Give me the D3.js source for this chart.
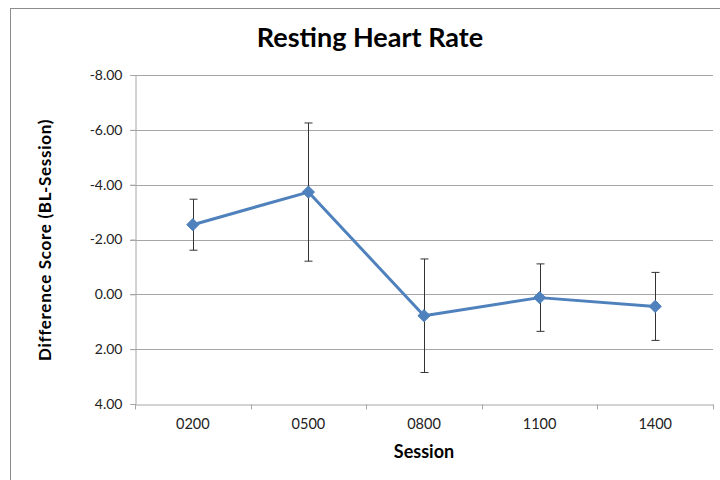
<!DOCTYPE html>
<html>
<head>
<meta charset="utf-8">
<script src="https://cdn.jsdelivr.net/npm/d3@7/dist/d3.min.js"></script>
<style>
  html, body { margin: 0; padding: 0; background: #fff; }
  svg { display: block; font-family: Lato, "Open Sans", sans-serif; }
</style>
</head>
<body>
<svg id="chart" width="720" height="480"></svg>
<script>
const sessions = ["0200", "0500", "0800", "1100", "1400"];
const meanScores = [-2.54, -3.73, 0.78, 0.12, 0.44];
const errorValues = [0.93, 2.52, 2.07, 1.23, 1.24];
const yTicks = [-8, -6, -4, -2, 0, 2, 4];

const svg = d3.select("#chart");
const margin = { left: 135, right: 7, top: 75, bottom: 76 };
const W = 720, H = 480;

// outer chart border
svg.append("rect")
  .attr("x", 10.5).attr("y", 8.5)
  .attr("width", 730).attr("height", 490)
  .attr("fill", "none").attr("stroke", "#8c8c8c").attr("stroke-width", 1);

const x = d3.scaleBand().domain(sessions)
  .range([margin.left, W - margin.right]).padding(0);
const y = d3.scaleLinear().domain([-8, 4])
  .range([margin.top, H - margin.bottom]);

// gridlines
svg.append("g")
  .selectAll("line").data(yTicks.filter(d => d !== 4)).join("line")
  .attr("x1", margin.left - 5).attr("x2", W - margin.right)
  .attr("y1", d => Math.round(y(d)) + 0.5).attr("y2", d => Math.round(y(d)) + 0.5)
  .attr("stroke", "#a6a6a6").attr("stroke-width", 1);

// y axis
const fmt = d => d3.format(".2f")(d).replace("\u2212", "-");
const yAxis = svg.append("g")
  .attr("transform", `translate(${margin.left + 0.5},0)`)
  .call(d3.axisLeft(y).tickValues(yTicks).tickFormat(fmt).tickSize(5).tickPadding(8));
yAxis.select(".domain").attr("stroke", "#a6a6a6");
yAxis.selectAll(".tick line").attr("stroke", "#a6a6a6");
yAxis.selectAll(".tick text")
  .attr("font-size", 14).attr("fill", "#222")
  .attr("font-family", "Lato, sans-serif");

// x axis
const xAxis = svg.append("g")
  .attr("transform", `translate(0,${Math.round(y(4)) + 0.5})`)
  .call(d3.axisBottom(x).tickSize(0).tickPadding(14));
xAxis.select(".domain").attr("stroke", "#a6a6a6");
xAxis.selectAll(".tick text")
  .attr("font-size", 14.5).attr("fill", "#222")
  .attr("font-family", "Lato, sans-serif");
// x tick marks at band boundaries
const bounds = sessions.map(s => x(s)).concat([x(sessions[sessions.length - 1]) + x.bandwidth()]);
xAxis.selectAll(".bound").data(bounds).join("line")
  .attr("class", "bound")
  .attr("x1", d => Math.round(d) + 0.5).attr("x2", d => Math.round(d) + 0.5)
  .attr("y1", 0).attr("y2", 5)
  .attr("stroke", "#a6a6a6");

const cx = s => x(s) + x.bandwidth() / 2;

// error bars
const eb = svg.append("g").attr("stroke", "#333").attr("stroke-width", 1);
sessions.forEach((s, i) => {
  const px = Math.round(cx(s)) + 0.5;
  const top = y(meanScores[i] - errorValues[i]);
  const bot = y(meanScores[i] + errorValues[i]);
  eb.append("line").attr("x1", px).attr("x2", px).attr("y1", top).attr("y2", bot);
  eb.append("line").attr("x1", px - 4).attr("x2", px + 4).attr("y1", top).attr("y2", top);
  eb.append("line").attr("x1", px - 4).attr("x2", px + 4).attr("y1", bot).attr("y2", bot);
});

// series line
const data = sessions.map((s, i) => ({ s, v: meanScores[i] }));
svg.append("path").datum(data)
  .attr("fill", "none").attr("stroke", "#4f81bd").attr("stroke-width", 3)
  .attr("stroke-linejoin", "round")
  .attr("d", d3.line().x(d => cx(d.s)).y(d => y(d.v)));

// diamond markers
svg.append("g").selectAll("path").data(data).join("path")
  .attr("transform", d => `translate(${cx(d.s)},${y(d.v)})`)
  .attr("d", d3.symbol().type(d3.symbolDiamond2).size(95))
  .attr("fill", "#4f81bd").attr("stroke", "#4f81bd").attr("stroke-width", 1);

// title
svg.append("text")
  .attr("x", 370).attr("y", 47)
  .attr("text-anchor", "middle")
  .attr("font-size", 27).attr("font-weight", "bold").attr("fill", "#000")
  .text("Resting Heart Rate");

// axis titles
svg.append("text")
  .attr("x", 424).attr("y", 458)
  .attr("text-anchor", "middle")
  .attr("font-size", 18).attr("font-weight", "bold").attr("fill", "#000")
  .text("Session");

svg.append("text")
  .attr("transform", "translate(51,240) rotate(-90)")
  .attr("text-anchor", "middle")
  .attr("font-size", 17).attr("font-weight", "bold").attr("fill", "#000")
  .attr("letter-spacing", 0.7)
  .text("Difference Score (BL-Session)");
</script>
</body>
</html>
